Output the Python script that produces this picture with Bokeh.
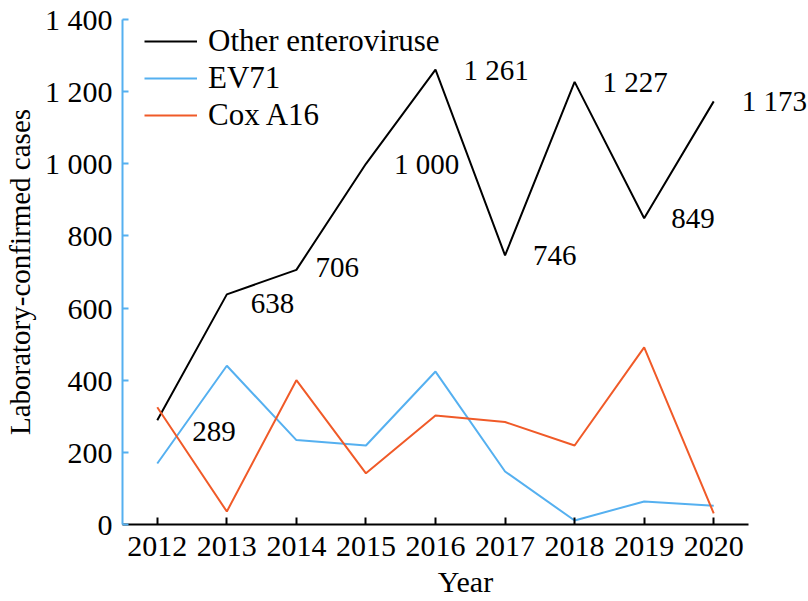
from bokeh.plotting import figure
from bokeh.models import ColumnDataSource, FixedTicker, Legend, LegendItem
from bokeh.core.properties import value
from bokeh.embed import file_html
from bokeh.resources import INLINE

years = [2012, 2013, 2014, 2015, 2016, 2017, 2018, 2019, 2020]
other_entero = [289, 638, 706, 1000, 1261, 746, 1227, 849, 1173]
ev71 = [169, 440, 234, 219, 424, 147, 11, 64, 52]
cox_a16 = [325, 36, 400, 142, 302, 284, 219, 491, 31]
other_labels = ["289", "638", "706", "1 000", "1 261", "746", "1 227", "849", "1 173"]
y_ticks = [0, 200, 400, 600, 800, 1000, 1200, 1400]
y_tick_labels = ["0", "200", "400", "600", "800", "1 000", "1 200", "1 400"]

FONT = "Liberation Serif"
FS = "30px"
BLACK = "#000000"
BLUE = "#55B0F0"
ORANGE = "#F05A28"

W, H = 808, 601
LEFT, RIGHT_AXIS, TOP, BOTTOM = 122, 748, 19, 524
x0, x1 = 2011.5, 2020.5
px_per_year = (RIGHT_AXIS - LEFT) / (x1 - x0)
x_end = x0 + (W - LEFT) / px_per_year  # frame runs to the right edge so labels are not clipped

p = figure(width=W, height=H, output_backend="svg", toolbar_location=None,
           x_range=(x0, x_end), y_range=(0, 1400),
           min_border_left=LEFT, min_border_right=0, min_border_top=TOP,
           min_border_bottom=H - BOTTOM)
p.outline_line_color = None
p.xgrid.visible = False
p.ygrid.visible = False
p.background_fill_color = "white"

l1 = p.line(years, other_entero, line_color=BLACK, line_width=2)
l2 = p.line(years, ev71, line_color=BLUE, line_width=2)
l3 = p.line(years, cox_a16, line_color=ORANGE, line_width=2)

# value labels for "Other enteroviruse"
lab_dx = [35, 24, 19, 28, 28, 28, 28, 27, 28]
lab_dy = [11, 9, -2, 0, 0, 0, 0, 0, 0]
src = ColumnDataSource(dict(x=years, y=other_entero, t=other_labels, dx=lab_dx, dy=lab_dy))
p.text(x="x", y="y", text="t", x_offset="dx", y_offset="dy", source=src,
       text_font=value(FONT), text_font_size="29px", text_color=BLACK,
       text_align="left", text_baseline="middle")

# axes
xa = p.xaxis[0]
xa.ticker = FixedTicker(ticks=years)
xa.bounds = (x0, x1)
xa.axis_label = "Year"
xa.axis_line_color = BLACK
xa.axis_line_width = 2
xa.major_tick_line_color = BLACK
xa.major_tick_line_width = 2
xa.major_tick_in = 7
xa.major_tick_out = 0
xa.minor_tick_line_color = None
xa.major_label_text_font = FONT
xa.major_label_text_font_size = FS
xa.major_label_text_color = BLACK
xa.major_label_standoff = 12
xa.axis_label_text_font = FONT
xa.axis_label_text_font_size = FS
xa.axis_label_text_font_style = "normal"
xa.axis_label_text_color = BLACK
xa.axis_label_standoff = 6

ya = p.yaxis[0]
ya.ticker = FixedTicker(ticks=y_ticks)
ya.major_label_overrides = {t: s for t, s in zip(y_ticks, y_tick_labels)}
ya.axis_label = "Laboratory-confirmed cases"
ya.axis_line_color = BLUE
ya.axis_line_width = 2
ya.major_tick_line_color = BLUE
ya.major_tick_line_width = 2
ya.major_tick_in = 6
ya.major_tick_out = 0
ya.minor_tick_line_color = None
ya.major_label_text_font = FONT
ya.major_label_text_font_size = FS
ya.major_label_text_color = BLACK
ya.major_label_standoff = 10
ya.axis_label_text_font = FONT
ya.axis_label_text_font_size = "29px"
ya.axis_label_text_font_style = "normal"
ya.axis_label_text_color = BLACK
ya.axis_label_standoff = 6

legend = Legend(items=[
    LegendItem(label="Other enteroviruse", renderers=[l1]),
    LegendItem(label="EV71", renderers=[l2]),
    LegendItem(label="Cox A16", renderers=[l3]),
], location=(22, 391))
legend.border_line_color = None
legend.background_fill_alpha = 0
legend.padding = 0
legend.margin = 0
legend.spacing = 1
legend.glyph_width = 53
legend.glyph_height = 30
legend.label_height = 30
legend.label_standoff = 11
legend.label_text_font = FONT
legend.label_text_font_size = "31px"
legend.label_text_color = BLACK
p.add_layout(legend, "center")

open("out.html", "w").write(file_html(p, INLINE))
